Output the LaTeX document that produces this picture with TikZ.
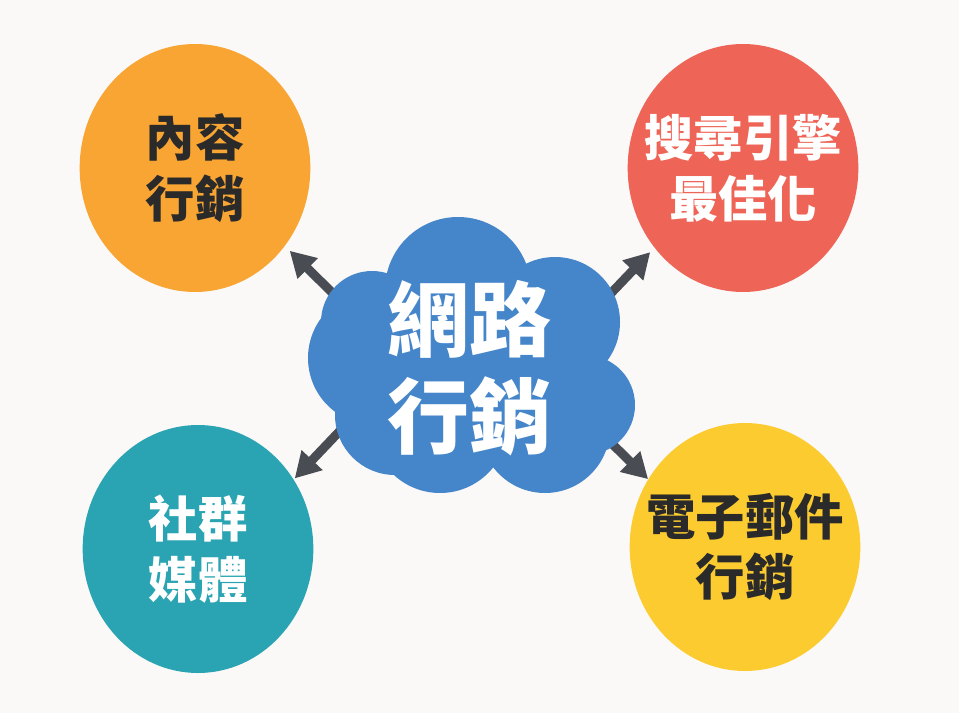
\documentclass[tikz,border=0pt]{standalone}
\usepackage{fontspec}
\usepackage{tikz}
\usetikzlibrary{shapes, shapes.geometric, arrows.meta, backgrounds}
\IfFontExistsTF{Noto Sans CJK TC Black}
  {\newfontfamily\cjk{Noto Sans CJK TC}[BoldFont={Noto Sans CJK TC Black}]}
  {\newfontfamily\cjk{Noto Sans CJK TC}[BoldFeatures={FakeBold=1.2}]}

\definecolor{paperC}{HTML}{FAF9F7}
\definecolor{orangeC}{HTML}{F9A533}
\definecolor{redC}{HTML}{EE6557}
\definecolor{tealC}{HTML}{2AA4B2}
\definecolor{yellowC}{HTML}{FBCB30}
\definecolor{cloudC}{HTML}{4585CA}
\definecolor{arrowC}{HTML}{4A4C53}
\definecolor{inkC}{HTML}{2A2A2A}

\begin{document}
\begin{tikzpicture}[x=0.75pt, y=-0.75pt, font=\cjk\bfseries]
\tikzstyle{topic}=[ellipse, inner sep=0pt, minimum width=173pt, minimum height=186pt]
\tikzstyle{topictext}=[align=center, font={\cjk\bfseries\fontsize{37pt}{45.5pt}\selectfont}]
\tikzstyle{link}=[line width=6.75pt, draw=arrowC, -{Triangle[length=19pt, width=20.5pt]}]
\useasboundingbox (0,0) rectangle (959,713);
\fill[paperC] (0,0) rectangle (959,713);

\node[topic, fill=orangeC, label={[topictext, text=inkC]center:{內容\\行銷}}]   (content) at (195,168) {};
\node[topic, fill=redC, label={[topictext, text=white]center:{搜尋引擎\\最佳化}}]   (seo) at (743,168) {};
\node[topic, fill=tealC, label={[topictext, text=white]center:{社群\\媒體}}]   (social) at (198,549) {};
\node[topic, fill=yellowC, label={[topictext, text=inkC]center:{電子郵件\\行銷}}]   (mail) at (745,547) {};

\coordinate (tl) at (355,315);
\coordinate (tr) at (595,310);
\coordinate (bl) at (355,415);
\coordinate (br) at (600,432);

\draw[link, shorten >=5pt] (tl) -- (content.-41);
\draw[link, shorten >=4.5pt] (tr) -- (seo.-138);
\draw[link, shorten >=1pt] (bl) -- (social.36);
\draw[link] (br) -- (mail.145);

% cloud
\fill[cloudC] (372,322) circle (51) (375,358) circle (67) (458,290) circle (73)
  (555,322) circle (65) (585,405) circle (50) (545,428) circle (65)
  (440,425) circle (68) (395,415) circle (60) (470,370) ellipse [x radius=120, y radius=90];
\node[align=center, text=white, font={\cjk\bfseries\fontsize{61.5pt}{72.75pt}\selectfont}]   (net) at (469,368) {網路\\行銷};
\end{tikzpicture}
\end{document}
